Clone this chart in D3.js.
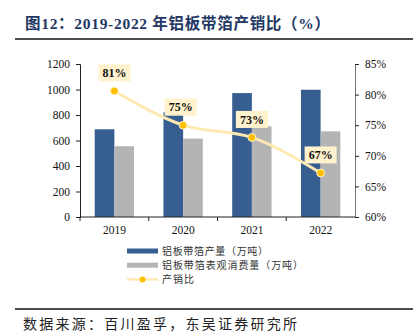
<!DOCTYPE html>
<html>
<head>
<meta charset="utf-8">
<script src="https://cdn.jsdelivr.net/npm/d3@7"></script>
<style>
  body { margin: 0; background: #fff; }
  svg { display: block; }
</style>
</head>
<body>
<svg width="413" height="335"></svg>
<script>
const years = ['2019', '2020', '2021', '2022'];
const output = [688, 821, 972, 998];
const consumption = [555, 615, 711, 672];
const ratio = [80.6, 75.0, 73.0, 67.2];
const ratioLabels = ['81%', '75%', '73%', '67%'];
const leftTicks = [0, 200, 400, 600, 800, 1000, 1200];
const rightTicks = [60, 65, 70, 75, 80, 85];
const seriesNames = ['铝板带箔产量（万吨）', '铝板带箔表观消费量（万吨）', '产销比'];

const svg = d3.select('svg');
const width = +svg.attr('width');

const margin = { top: 64, right: 58, bottom: 118, left: 80 };
const innerWidth = width - margin.left - margin.right;
const innerHeight = 217 - margin.top;

const serif = '"Liberation Serif", "Times New Roman", serif';
const cjk = '"Noto Sans CJK SC", sans-serif';

// title
svg.append('text')
    .attr('x', 25)
    .attr('y', 29)
    .attr('font-family', `${serif.split(',')[0]}, ${cjk}`)
    .attr('font-weight', 'bold')
    .attr('font-size', 15.5)
    .attr('fill', '#1f3864')
    .attr('textLength', 305)
    .attr('lengthAdjust', 'spacing')
    .text('图12：2019-2022 年铝板带箔产销比（%）');

svg.append('line')
    .attr('x1', 15).attr('x2', width)
    .attr('y1', 39).attr('y2', 39)
    .attr('stroke', '#111').attr('stroke-width', 1.6);

const g = svg.append('g')
    .attr('transform', `translate(${margin.left},${margin.top})`);

const xScale = d3.scaleBand()
    .domain(years)
    .range([0, innerWidth]);

const yLeft = d3.scaleLinear()
    .domain([0, 1200])
    .range([innerHeight, 0]);

const yRight = d3.scaleLinear()
    .domain([60, 85])
    .range([innerHeight, 0]);

const barWidth = xScale.bandwidth() * 0.286;

// bars
g.selectAll('rect.out').data(output)
  .enter().append('rect')
    .attr('class', 'out')
    .attr('x', (d, i) => xScale(years[i]) + xScale.bandwidth() / 2 - barWidth)
    .attr('y', d => yLeft(d))
    .attr('width', barWidth)
    .attr('height', d => innerHeight - yLeft(d))
    .attr('fill', '#365e91');

g.selectAll('rect.cons').data(consumption)
  .enter().append('rect')
    .attr('class', 'cons')
    .attr('x', (d, i) => xScale(years[i]) + xScale.bandwidth() / 2)
    .attr('y', d => yLeft(d))
    .attr('width', barWidth)
    .attr('height', d => innerHeight - yLeft(d))
    .attr('fill', '#b4b4b4');

// axes
const leftAxis = d3.axisLeft(yLeft).tickValues(leftTicks).tickSize(4).tickPadding(6)
    .tickFormat(d3.format('d'));
const rightAxis = d3.axisRight(yRight).tickValues(rightTicks).tickSize(4).tickPadding(6)
    .tickFormat(d => d + '%');
const bottomAxis = d3.axisBottom(xScale).tickSize(0).tickPadding(9);

const styleAxis = sel => {
    sel.attr('font-family', serif).attr('font-size', 11.5);
    sel.selectAll('.domain').attr('stroke', '#222');
    sel.selectAll('line').attr('stroke', '#222');
    sel.selectAll('text').attr('fill', '#111');
};

g.append('g').call(leftAxis).call(styleAxis);
g.append('g').attr('transform', `translate(${innerWidth},0)`).call(rightAxis).call(styleAxis)
    .selectAll('.domain').attr('stroke', '#777');

const xAxisG = g.append('g')
    .attr('transform', `translate(0,${innerHeight})`)
    .call(bottomAxis)
    .call(styleAxis);
xAxisG.select('.domain').attr('d', `M0,0H${innerWidth}`);

// ticks between categories
xAxisG.selectAll('line.sep').data(years)
  .enter().append('line')
    .attr('class', 'sep')
    .attr('x1', d => xScale(d)).attr('x2', d => xScale(d))
    .attr('y1', 0).attr('y2', 4)
    .attr('stroke', '#222');

// ratio line
const line = d3.line()
    .x((d, i) => xScale(years[i]) + xScale.bandwidth() / 2)
    .y(d => yRight(d))
    .curve(d3.curveMonotoneX);

g.append('path')
    .datum(ratio)
    .attr('d', line)
    .attr('fill', 'none')
    .attr('stroke', '#ffe9b3')
    .attr('stroke-width', 3);

g.selectAll('circle.pt').data(ratio)
  .enter().append('circle')
    .attr('class', 'pt')
    .attr('cx', (d, i) => xScale(years[i]) + xScale.bandwidth() / 2)
    .attr('cy', d => yRight(d))
    .attr('r', 4)
    .attr('fill', '#ffc000')
    .attr('stroke', '#fff')
    .attr('stroke-width', 0.8);

// value labels
const labelG = g.selectAll('g.lbl').data(ratio)
  .enter().append('g')
    .attr('class', 'lbl')
    .attr('transform', (d, i) =>
        `translate(${xScale(years[i]) + xScale.bandwidth() / 2 - (i === 1 ? 2.5 : 0)},${yRight(d) - 18})`);

labelG.append('rect')
    .attr('x', -16).attr('y', -8.5)
    .attr('width', 32).attr('height', 17)
    .attr('fill', '#fff2cc');

labelG.append('text')
    .attr('text-anchor', 'middle')
    .attr('dy', '0.35em')
    .attr('font-family', serif)
    .attr('font-weight', 'bold')
    .attr('font-size', 12)
    .attr('fill', '#111')
    .text((d, i) => ratioLabels[i]);

// legend
const legendLengths = [106, 141, 32];
const legend = svg.append('g').attr('transform', 'translate(127,251)');
const legendRows = legend.selectAll('g').data(seriesNames)
  .enter().append('g')
    .attr('transform', (d, i) => `translate(0,${i * 14.2})`);

legendRows.each(function(d, i) {
    const row = d3.select(this);
    if (i < 2) {
        row.append('rect')
            .attr('x', 0).attr('y', -2.5)
            .attr('width', 31).attr('height', 5)
            .attr('fill', i === 0 ? '#365e91' : '#b4b4b4');
    } else {
        row.append('line')
            .attr('x1', 0).attr('x2', 31)
            .attr('stroke', '#ffe9b3').attr('stroke-width', 2.5);
        row.append('circle')
            .attr('cx', 15.5).attr('r', 3)
            .attr('fill', '#ffc000');
    }
    row.append('text')
        .attr('x', 35)
        .attr('dy', '0.35em')
        .attr('font-family', cjk)
        .attr('font-size', 10)
        .attr('fill', '#333')
        .attr('textLength', legendLengths[i])
        .attr('lengthAdjust', 'spacing')
        .text(d);
});

// source
svg.append('line')
    .attr('x1', 15).attr('x2', width)
    .attr('y1', 309).attr('y2', 309)
    .attr('stroke', '#111').attr('stroke-width', 1.4);

svg.append('text')
    .attr('x', 23)
    .attr('y', 329)
    .attr('font-family', cjk)
    .attr('font-size', 14)
    .attr('fill', '#222')
    .attr('textLength', 274)
    .attr('lengthAdjust', 'spacing')
    .text('数据来源：百川盈孚，东吴证券研究所');
</script>
</body>
</html>
